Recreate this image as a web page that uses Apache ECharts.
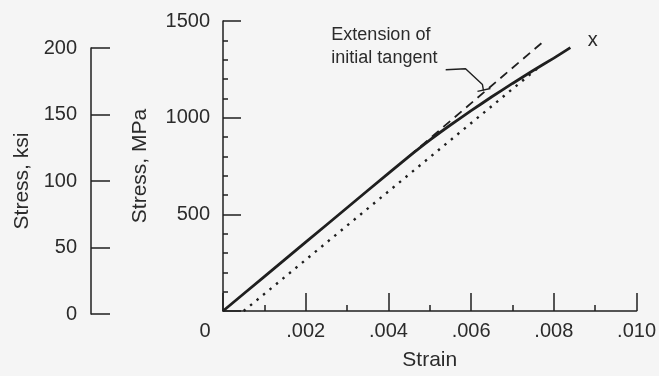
<!DOCTYPE html>
<html>
<head>
<meta charset="utf-8">
<script src="https://cdn.jsdelivr.net/npm/echarts@6/dist/echarts.min.js"></script>
<style>
html, body { margin: 0; padding: 0; background: #f5f5f5; }
#main { width: 659px; height: 376px; }
</style>
</head>
<body>
<div id="main"></div>
<script>
// measured stress-strain curve (MPa vs strain)
var strainCurve = [0, 0.001, 0.002, 0.003, 0.004, 0.0045, 0.005, 0.0055, 0.006, 0.0065, 0.007, 0.0075, 0.008, 0.0084];
var stressCurve = [0, 178, 356, 534, 712, 800, 884, 962, 1036, 1108, 1177, 1244, 1308, 1362];
// extension of initial tangent (dashed)
var strainTangent = [0.0045, 0.0077];
var stressTangent = [801, 1385];
// offset line (dotted)
var strainOffset = [0.0005, 0.0077];
var stressOffset = [0, 1272];
// leader line for the note, and its end bar
var strainLeader = [0.005385, 0.005865, 0.006274, 0.006298];
var stressLeader = [1248, 1253, 1171, 1141];
var strainBar = [0.006154, 0.006466];
var stressBar = [1136, 1151];
// where the notes sit
var notePos = [0.00262, 1366];
var fracturePos = [0.00894, 1398];

var strainTicks = [0, 0.010, 0.002];   // min, max, step
var mpaTicks = [0, 1500, 500];
var ksiTicks = [0, 200, 50];

function pairs(xs, ys) {
  return xs.map(function (x, i) { return [x, ys[i]]; });
}

var ink = '#1f1f1f';
var textColor = '#2b2b2b';
var font = "'Liberation Sans', Arial, Helvetica, sans-serif";

var myChart = echarts.init(document.getElementById('main'));

myChart.setOption({
  animation: false,
  backgroundColor: '#f5f5f5',
  grid: [
    { left: 223, right: 20, top: 21, bottom: 62 },
    { left: 91, width: 30, top: 48, bottom: 62 }
  ],
  xAxis: [
    {
      gridIndex: 0,
      type: 'value',
      min: strainTicks[0], max: strainTicks[1], interval: strainTicks[2],
      name: 'Strain',
      nameLocation: 'middle',
      nameGap: 39,
      nameTextStyle: { fontSize: 21, color: textColor, fontFamily: font },
      axisLine: { lineStyle: { color: ink, width: 1.5 } },
      axisTick: { inside: true, length: 18, lineStyle: { color: ink, width: 1.5 } },
      minorTick: { show: true, splitNumber: 2, length: 6, lineStyle: { color: ink, width: 1.5 } },
      splitLine: { show: false },
      axisLabel: {
        margin: 10,
        fontSize: 20,
        color: textColor,
        fontFamily: font,
        formatter: function (v) {
          if (v === 0) return '{z|0}';
          return v.toFixed(3).replace(/^0/, '');
        },
        rich: { z: { fontSize: 20, color: textColor, fontFamily: font, padding: [0, 36, 0, 0] } }
      }
    },
    { gridIndex: 1, type: 'value', show: false, min: 0, max: 1 }
  ],
  yAxis: [
    {
      gridIndex: 0,
      type: 'value',
      min: mpaTicks[0], max: mpaTicks[1], interval: mpaTicks[2],
      name: 'Stress, MPa',
      nameLocation: 'middle',
      nameGap: 72,
      nameTextStyle: { fontSize: 21, color: textColor, fontFamily: font },
      axisLine: { show: true, lineStyle: { color: ink, width: 1.5 } },
      axisTick: { show: true, inside: true, length: 18, lineStyle: { color: ink, width: 1.5 } },
      minorTick: { show: true, splitNumber: 5, length: 5, lineStyle: { color: ink, width: 1.5 } },
      splitLine: { show: false },
      axisLabel: {
        margin: 13,
        fontSize: 20,
        color: textColor,
        fontFamily: font,
        formatter: function (v) { return v === 0 ? '' : String(v); }
      }
    },
    {
      gridIndex: 1,
      type: 'value',
      min: ksiTicks[0], max: ksiTicks[1], interval: ksiTicks[2],
      name: 'Stress, ksi',
      nameLocation: 'middle',
      nameGap: 58,
      nameTextStyle: { fontSize: 21, color: textColor, fontFamily: font },
      axisLine: { show: true, lineStyle: { color: ink, width: 1.5 } },
      axisTick: { show: true, inside: true, length: 19, lineStyle: { color: ink, width: 1.5 } },
      splitLine: { show: false },
      axisLabel: { margin: 14, fontSize: 20, color: textColor, fontFamily: font }
    }
  ],
  series: [
    {
      type: 'line', name: 'offset', showSymbol: false, silent: true,
      data: pairs(strainOffset, stressOffset),
      lineStyle: { color: ink, width: 2.4, type: [2.4, 6] }
    },
    {
      type: 'line', name: 'tangent', showSymbol: false, silent: true,
      data: pairs(strainTangent, stressTangent),
      lineStyle: { color: ink, width: 1.8, type: [9, 6] }
    },
    {
      type: 'line', name: 'curve', showSymbol: false, silent: true, smooth: 0.2,
      data: pairs(strainCurve, stressCurve),
      lineStyle: { color: ink, width: 2.8 }
    },
    {
      type: 'line', name: 'leader', showSymbol: false, silent: true,
      data: pairs(strainLeader, stressLeader),
      lineStyle: { color: ink, width: 1.4 }
    },
    {
      type: 'line', name: 'bar', showSymbol: false, silent: true,
      data: pairs(strainBar, stressBar),
      lineStyle: { color: ink, width: 1.4 }
    }
  ]
});

var np = myChart.convertToPixel({ gridIndex: 0 }, notePos);
var fp = myChart.convertToPixel({ gridIndex: 0 }, fracturePos);

myChart.setOption({
  graphic: [
    {
      type: 'text', x: np[0], y: np[1],
      style: {
        text: 'Extension of\ninitial tangent',
        fontSize: 18, lineHeight: 23, fontFamily: font, fill: textColor,
        textAlign: 'left', textVerticalAlign: 'middle'
      }
    },
    {
      type: 'text', x: fp[0], y: fp[1],
      style: {
        text: 'x', fontSize: 20, fontFamily: font, fill: textColor,
        textAlign: 'center', textVerticalAlign: 'middle'
      }
    }
  ]
});
</script>
</body>
</html>
